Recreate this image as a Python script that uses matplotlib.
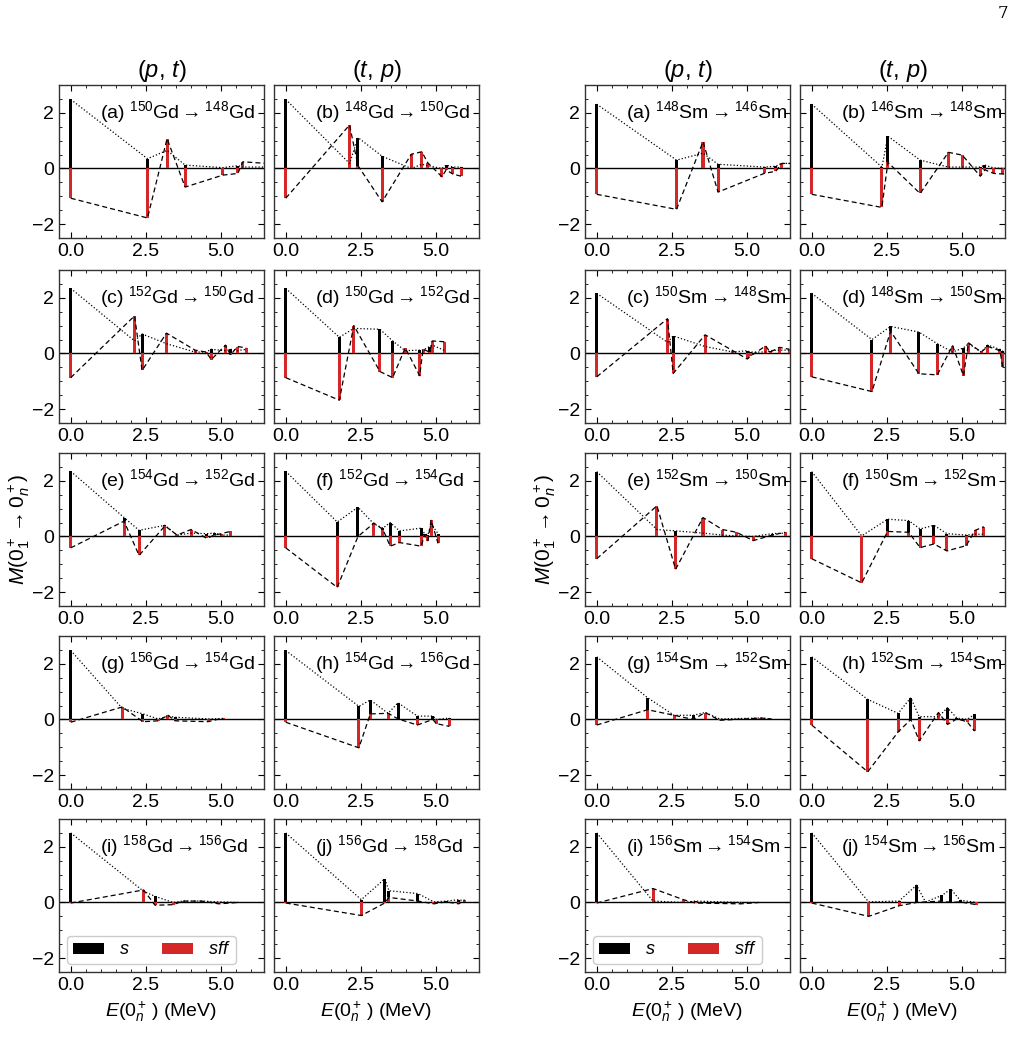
import matplotlib
matplotlib.use("Agg")
import matplotlib.pyplot as plt
from matplotlib.patches import Patch
from matplotlib.ticker import MultipleLocator

plt.rcParams['font.family'] = ['Liberation Sans', 'DejaVu Sans']
plt.rcParams['mathtext.fontset'] = 'custom'
plt.rcParams['mathtext.rm'] = 'Liberation Sans'
plt.rcParams['mathtext.it'] = 'Liberation Sans:italic'
plt.rcParams['mathtext.bf'] = 'Liberation Sans:bold'
plt.rcParams['mathtext.sf'] = 'Liberation Sans'

# ---------------- data: Gd chain ----------------
gd_a_E = [0, 2.55, 3.2, 3.8, 5.05, 5.55, 5.72, 6.9]
gd_a_s = [2.48, 0.35, 0.65, 0.12, 0.03, 0.1, 0.05, 0.05]
gd_a_sff = [-1.07, -1.78, 1.07, -0.67, -0.24, -0.18, 0.24, 0.15]

gd_b_E = [0, 2.12, 2.4, 3.2, 4.17, 4.52, 4.72, 5.19, 5.33, 5.55, 5.83]
gd_b_s = [2.48, 0.18, 1.11, 0.44, 0.0, 0.15, 0.1, 0.0, 0.12, 0.05, 0.05]
gd_b_sff = [-1.07, 1.56, 0.1, -1.2, 0.51, 0.6, 0.2, -0.3, -0.05, -0.2, -0.28]

gd_c_E = [0, 2.12, 2.37, 3.18, 4.13, 4.5, 4.67, 5.14, 5.31, 5.54, 5.83]
gd_c_s = [2.34, 0.45, 0.7, 0.35, 0.05, 0.05, 0.15, 0.1, 0.15, 0.1, 0.15]
gd_c_sff = [-0.87, 1.35, -0.61, 0.73, 0.12, 0.05, -0.22, 0.3, -0.05, 0.25, 0.2]

gd_d_E = [0, 1.78, 2.26, 3.13, 3.55, 3.97, 4.45, 4.56, 4.78, 4.87, 5.29]
gd_d_s = [2.34, 0.58, 0.9, 0.87, 0.45, 0.1, 0.12, 0.12, 0.25, 0.3, 0.1]
gd_d_sff = [-0.87, -1.68, 1.0, -0.65, -0.87, 0.2, -0.8, 0.15, 0.05, 0.45, 0.42]

gd_e_E = [0, 1.77, 2.27, 3.13, 3.53, 4.0, 4.52, 4.77, 5.0, 5.3]
gd_e_s = [2.34, 0.68, 0.22, 0.4, 0.05, 0.12, 0.1, 0.12, 0.05, 0.05]
gd_e_sff = [-0.41, 0.55, -0.68, 0.38, 0.05, 0.25, -0.07, 0.05, 0.1, 0.18]

gd_f_E = [0, 1.71, 2.4, 2.93, 3.23, 3.47, 3.78, 4.5, 4.61, 4.72, 4.83, 5.06]
gd_f_s = [2.34, 0.52, 1.05, 0.45, 0.3, 0.5, 0.2, 0.3, 0.1, 0.05, 0.45, 0.1]
gd_f_sff = [-0.41, -1.83, 0.0, 0.48, 0.25, -0.35, -0.22, -0.35, 0.05, -0.15, 0.58, -0.25]

gd_g_E = [0, 1.71, 2.4, 2.9, 3.23, 3.47, 4.56, 5.06]
gd_g_s = [2.48, 0.4, 0.2, 0.02, 0.12, 0.08, 0.02, 0.03]
gd_g_sff = [-0.1, 0.45, -0.08, -0.05, 0.15, -0.05, -0.08, 0.05]

gd_h_E = [0, 2.43, 2.81, 3.4, 3.73, 4.37, 4.89, 5.0, 5.44]
gd_h_s = [2.48, 0.47, 0.7, 0.22, 0.6, 0.12, 0.12, 0.0, 0.05]
gd_h_sff = [-0.1, -1.02, 0.2, 0.22, 0.02, -0.2, 0.0, -0.15, -0.25]

gd_i_E = [0, 2.42, 2.8, 3.4, 3.73, 4.34, 4.92, 5.55]
gd_i_s = [2.5, 0.4, 0.22, 0.0, 0.05, 0.05, 0.02, 0.0]
gd_i_sff = [-0.02, 0.45, -0.1, -0.08, 0.05, 0.05, -0.05, 0.0]

gd_j_E = [0, 2.51, 3.29, 3.43, 4.39, 4.92, 5.33, 5.75, 5.94]
gd_j_s = [2.5, 0.1, 0.85, 0.42, 0.32, 0.02, 0.05, 0.1, 0.05]
gd_j_sff = [-0.02, -0.47, -0.02, 0.18, 0.05, -0.05, 0.02, -0.05, 0.1]

# ---------------- data: Sm chain ----------------
sm_a_E = [0, 2.65, 3.53, 4.03, 5.56, 5.95, 6.14, 6.9]
sm_a_s = [2.31, 0.3, 0.55, 0.15, 0.05, 0.08, 0.18, 0.18]
sm_a_sff = [-0.93, -1.47, 0.96, -0.85, -0.18, -0.1, 0.18, 0.18]

sm_b_E = [0, 2.33, 2.53, 3.6, 4.54, 5.0, 5.6, 5.75, 6.05, 6.35, 6.9]
sm_b_s = [2.31, 0.05, 1.16, 0.3, 0.05, 0.05, 0.05, 0.12, 0.02, 0.0, 0.0]
sm_b_sff = [-0.93, -1.4, 0.22, -0.9, 0.58, 0.48, -0.28, -0.05, -0.18, -0.2, -0.2]

sm_c_E = [0, 2.35, 2.54, 3.6, 4.52, 5.0, 5.1, 5.61, 5.76, 6.07, 6.4]
sm_c_s = [2.16, 0.4, 0.63, 0.25, 0.05, 0.1, 0.05, 0.05, 0.1, 0.12, 0.12]
sm_c_sff = [-0.84, 1.25, -0.72, 0.67, 0.1, -0.2, -0.1, 0.27, 0.05, 0.22, 0.15]

sm_d_E = [0, 2.0, 2.62, 3.56, 4.17, 4.68, 5.04, 5.21, 5.63, 5.85, 6.25, 6.35]
sm_d_s = [2.16, 0.5, 0.97, 0.77, 0.35, 0.05, 0.2, 0.35, 0.05, 0.3, 0.15, 0.1]
sm_d_sff = [-0.84, -1.37, 0.8, -0.73, -0.77, 0.28, -0.8, 0.38, 0.05, 0.25, 0.1, -0.5]

sm_e_E = [0, 2.0, 2.62, 3.53, 4.17, 4.64, 5.2, 5.83, 6.26]
sm_e_s = [2.33, 0.25, 0.2, 0.12, 0.05, 0.02, 0.0, 0.1, 0.12]
sm_e_sff = [-0.8, 1.1, -1.18, 0.68, 0.25, 0.15, -0.15, 0.05, 0.15]

sm_f_E = [0, 1.66, 2.52, 3.22, 3.6, 4.06, 4.49, 5.13, 5.43, 5.72]
sm_f_s = [2.33, 0.02, 0.62, 0.57, 0.27, 0.4, 0.1, 0.05, 0.08, 0.08]
sm_f_sff = [-0.8, -1.67, 0.18, 0.15, -0.4, -0.27, -0.52, -0.33, 0.22, 0.35]

sm_g_E = [0, 1.69, 2.57, 3.21, 3.6, 4.08, 5.45, 5.8]
sm_g_s = [2.25, 0.78, 0.15, 0.15, 0.25, 0.02, 0.05, 0.02]
sm_g_sff = [-0.2, 0.35, 0.15, 0.0, 0.25, -0.03, 0.05, 0.02]

sm_h_E = [0, 1.86, 2.87, 3.29, 3.57, 4.21, 4.51, 4.82, 5.16, 5.41]
sm_h_s = [2.25, 0.72, 0.22, 0.78, 0.1, 0.1, 0.42, 0.05, 0.0, 0.18]
sm_h_sff = [-0.2, -1.88, -0.45, 0.0, -0.77, 0.25, -0.18, 0.02, -0.08, -0.42]

sm_i_E = [0, 1.87, 2.88, 3.27, 4.78, 5.4]
sm_i_s = [2.5, 0.05, 0.0, 0.05, 0.0, 0.0]
sm_i_sff = [-0.02, 0.5, 0.1, -0.02, -0.05, 0.0]

sm_j_E = [0, 1.89, 2.9, 3.48, 3.78, 4.32, 4.62, 4.93, 5.47]
sm_j_s = [2.5, 0.02, 0.05, 0.62, 0.02, 0.25, 0.48, 0.08, 0.0]
sm_j_sff = [-0.02, -0.5, -0.12, 0.0, 0.02, 0.05, 0.0, 0.02, -0.08]

# panel labels
gd_pt_labels = [("a", 150, 148), ("c", 152, 150), ("e", 154, 152), ("g", 156, 154), ("i", 158, 156)]
gd_tp_labels = [("b", 148, 150), ("d", 150, 152), ("f", 152, 154), ("h", 154, 156), ("j", 156, 158)]
sm_pt_labels = [("a", 148, 146), ("c", 150, 148), ("e", 152, 150), ("g", 154, 152), ("i", 156, 154)]
sm_tp_labels = [("b", 146, 148), ("d", 148, 150), ("f", 150, 152), ("h", 152, 154), ("j", 154, 156)]

column_titles = ["$(p,\\,t)$", "$(t,\\,p)$", "$(p,\\,t)$", "$(t,\\,p)$"]
legend_labels = ["$s$", "$sff$"]

gd_pt = [(gd_a_E, gd_a_s, gd_a_sff), (gd_c_E, gd_c_s, gd_c_sff), (gd_e_E, gd_e_s, gd_e_sff),
         (gd_g_E, gd_g_s, gd_g_sff), (gd_i_E, gd_i_s, gd_i_sff)]
gd_tp = [(gd_b_E, gd_b_s, gd_b_sff), (gd_d_E, gd_d_s, gd_d_sff), (gd_f_E, gd_f_s, gd_f_sff),
         (gd_h_E, gd_h_s, gd_h_sff), (gd_j_E, gd_j_s, gd_j_sff)]
sm_pt = [(sm_a_E, sm_a_s, sm_a_sff), (sm_c_E, sm_c_s, sm_c_sff), (sm_e_E, sm_e_s, sm_e_sff),
         (sm_g_E, sm_g_s, sm_g_sff), (sm_i_E, sm_i_s, sm_i_sff)]
sm_tp = [(sm_b_E, sm_b_s, sm_b_sff), (sm_d_E, sm_d_s, sm_d_sff), (sm_f_E, sm_f_s, sm_f_sff),
         (sm_h_E, sm_h_s, sm_h_sff), (sm_j_E, sm_j_s, sm_j_sff)]

columns = [(gd_pt, gd_pt_labels, "Gd"), (gd_tp, gd_tp_labels, "Gd"),
           (sm_pt, sm_pt_labels, "Sm"), (sm_tp, sm_tp_labels, "Sm")]

RED = '#d62728'
W, H = 1020, 1057
fig = plt.figure(figsize=(W / 100, H / 100), dpi=100)

col_left = [59, 274, 585, 800]
row_top = [85, 270, 453, 636, 819]
aw, ah = 205, 153

for ci, (data, labels, el) in enumerate(columns):
    for ri in range(5):
        E, s, sff = data[ri]
        ax = fig.add_axes([col_left[ci] / W, 1 - (row_top[ri] + ah) / H, aw / W, ah / H])
        ax.bar(E, s, width=0.1, color='black', zorder=2)
        ax.bar(E, sff, width=0.1, color=RED, zorder=3)
        ax.plot(E, s, ls=':', color='black', lw=0.9, zorder=4)
        ax.plot(E, sff, ls='--', color='black', lw=0.9, dashes=(4, 2.5), zorder=4)
        ax.axhline(0, color='black', lw=1.0, zorder=1)
        ax.set_xlim(-0.39, 6.42)
        ax.set_ylim(-2.5, 3.0)
        ax.xaxis.set_major_locator(MultipleLocator(2.5))
        ax.xaxis.set_minor_locator(MultipleLocator(0.5))
        ax.yaxis.set_major_locator(MultipleLocator(2))
        ax.yaxis.set_minor_locator(MultipleLocator(0.5))
        ax.tick_params(which='both', direction='in', top=True, right=True, labelsize=14)
        ax.tick_params(which='major', length=4, width=0.8)
        ax.tick_params(which='minor', length=2, width=0.6)
        ax.set_xticks([0, 2.5, 5.0])
        ax.set_xticklabels(["0.0", "2.5", "5.0"])
        for sp in ax.spines.values():
            sp.set_linewidth(1.0)
            sp.set_color('#333333')
        if ci in (1, 3):
            ax.set_yticklabels([])
        lab, a1, a2 = labels[ri]
        ax.text(0.2, 0.82, "(%s) $^{%d}$%s$\\rightarrow$$^{%d}$%s" % (lab, a1, el, a2, el),
                transform=ax.transAxes, ha='left', va='center', fontsize=14)
        if ri == 0:
            ax.set_title(column_titles[ci], fontsize=17, pad=6)
        if ri == 4:
            ax.set_xlabel("$E(0_n^+\\,)$ (MeV)", fontsize=14)
            if ci in (0, 2):
                handles = [Patch(facecolor='black'), Patch(facecolor=RED)]
                ax.legend(handles, legend_labels, loc='lower left', ncol=2, fontsize=13,
                          handlelength=1.75, handleheight=0.55, columnspacing=1.8,
                          handletextpad=0.8, borderpad=0.3, borderaxespad=0.45,
                          framealpha=1, edgecolor='#cccccc')
        if ri == 2 and ci in (0, 2):
            ax.set_ylabel("$M(0_1^+\\rightarrow 0_n^+)$", fontsize=15, labelpad=0)

fig.text(1003 / W, 1 - 14 / H, "7", fontsize=12, family='DejaVu Serif', ha='center', va='center')

fig.savefig("out.png", dpi=100)
